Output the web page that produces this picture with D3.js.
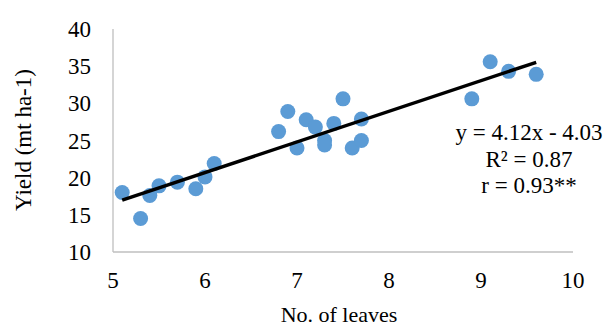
<!DOCTYPE html>
<meta charset="utf-8">
<style>
  body { margin: 0; background: #fff; }
  text { font-family: "Liberation Serif", "Times New Roman", serif; fill: #000; }
</style>
<div id="container"></div>
<script src="https://cdn.jsdelivr.net/npm/d3@7"></script>
<script>
// leaves vs yield
const leaves = [5.1, 5.3, 5.4, 5.5, 5.7, 5.9, 6.0, 6.1,
                6.8, 6.9, 7.0, 7.1, 7.2, 7.3, 7.3, 7.4, 7.5, 7.6, 7.7, 7.7,
                8.9, 9.1, 9.3, 9.6];
const yieldVals = [18.0, 14.5, 17.6, 18.9, 19.4, 18.5, 20.1, 21.9,
                   26.2, 28.9, 24.0, 27.8, 26.8, 25.0, 24.4, 27.3, 30.6, 24.0, 25.0, 27.9,
                   30.6, 35.6, 34.3, 33.9];
const xTicks = [5, 6, 7, 8, 9, 10];
const yTicks = [10, 15, 20, 25, 30, 35, 40];
const slope = 4.12, intercept = -4.03;
const eqLines = ["y = 4.12x - 4.03", "R² = 0.87", "r = 0.93**"];

const width = 608, height = 327;

const x = d3.scaleLinear().domain([5, 10]).range([113, 573]);
const y = d3.scaleLinear().domain([10, 40]).range([252, 29]);

const svg = d3.select("#container").append("svg")
    .attr("width", width)
    .attr("height", height);

// axis lines only, no ticks
svg.append("line")
    .attr("x1", x(5)).attr("x2", x(5))
    .attr("y1", y(40)).attr("y2", y(10))
    .attr("stroke", "#bfbfbf").attr("stroke-width", 1.3);
svg.append("line")
    .attr("x1", x(5)).attr("x2", x(10))
    .attr("y1", y(10)).attr("y2", y(10))
    .attr("stroke", "#bfbfbf").attr("stroke-width", 1.3);

svg.selectAll(".ytick").data(yTicks).enter().append("text")
    .attr("class", "ytick")
    .attr("x", 91)
    .attr("y", d => y(d) + 8)
    .attr("text-anchor", "end")
    .style("font-size", "23px")
    .text(d => d);

svg.selectAll(".xtick").data(xTicks).enter().append("text")
    .attr("class", "xtick")
    .attr("x", d => x(d))
    .attr("y", 288)
    .attr("text-anchor", "middle")
    .style("font-size", "23px")
    .text(d => d);

svg.append("text")
    .attr("x", 339).attr("y", 322)
    .attr("text-anchor", "middle")
    .style("font-size", "22px")
    .text("No. of leaves");

svg.append("text")
    .attr("transform", `translate(31, 140) rotate(-90)`)
    .attr("text-anchor", "middle")
    .style("font-size", "23px")
    .text("Yield (mt ha-1)");

const data = leaves.map((v, i) => ({ x: v, y: yieldVals[i] }));

svg.selectAll("circle").data(data).enter().append("circle")
    .attr("cx", d => x(d.x))
    .attr("cy", d => y(d.y))
    .attr("r", 7.5)
    .attr("fill", "#5b9bd5");

// trend line over the data range
const xMin = d3.min(leaves), xMax = d3.max(leaves);
svg.append("line")
    .attr("x1", x(xMin)).attr("y1", y(slope * xMin + intercept))
    .attr("x2", x(xMax)).attr("y2", y(slope * xMax + intercept))
    .attr("stroke", "#000").attr("stroke-width", 3.5);

svg.selectAll(".eq").data(eqLines).enter().append("text")
    .attr("class", "eq")
    .attr("x", 529)
    .attr("y", (d, i) => 140 + i * 26.5)
    .attr("text-anchor", "middle")
    .style("font-size", "23px")
    .text(d => d);
</script>
